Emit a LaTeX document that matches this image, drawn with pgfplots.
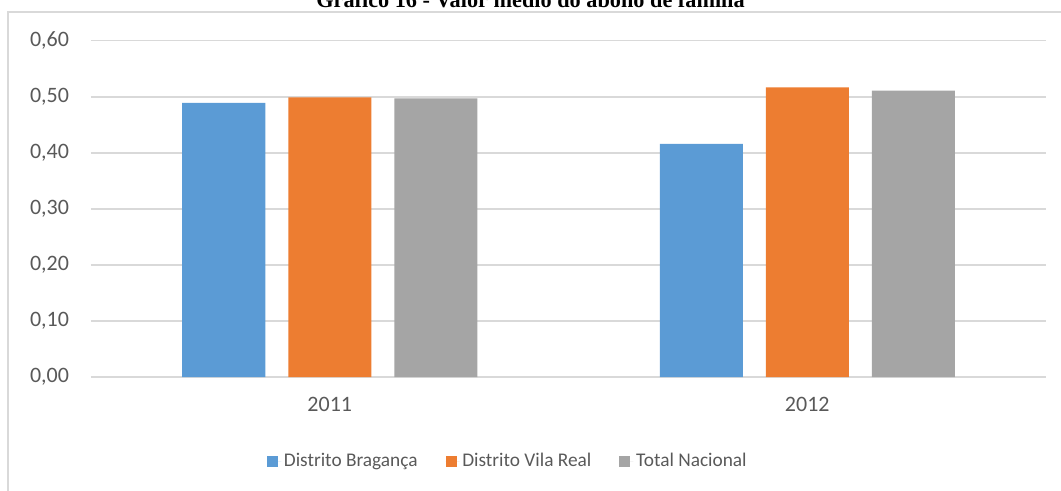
\documentclass[border=0pt]{standalone}
\usepackage{pgfplots}
\pgfplotsset{compat=1.18}
\usepackage{fontspec}
\setmainfont{Carlito}
\newfontfamily\titlefont{Liberation Serif}
\definecolor{cblue}{HTML}{5B9BD5}
\definecolor{corange}{HTML}{ED7D31}
\definecolor{cgray}{HTML}{A5A5A5}
\definecolor{ctext}{HTML}{595959}
\definecolor{cgrid}{HTML}{D9D9D9}
\begin{document}
\begin{tikzpicture}
\useasboundingbox (0,0) rectangle (795.75pt,-367.5pt);
\draw[cgrid, line width=0.9pt] (6pt,-400pt) -- (6pt,-9pt) -- (800pt,-9pt);
\node[anchor=base, inner sep=0pt, font=\titlefont\bfseries\fontsize{16.7}{19}\selectfont] at (397.9pt,-5.6pt) {Gráfico 16 - Valor médio do abono de família};
\begin{axis}[
  at={(68.25pt,-282.75pt)}, anchor=south west,
  scale only axis, width=716.25pt, height=252.2pt,
  ymin=0, ymax=0.6, ytick={0,0.1,...,0.6},
  xmin=-0.5, xmax=1.5, xtick={0,1}, xticklabels={2011,2012},
  axis line style={draw=none},
  major tick length=0pt,
  ymajorgrids, grid style={cgrid, line width=1.1pt},
  tick label style={font=\fontsize{16.5}{18}\selectfont, text=ctext},
  yticklabel style={xshift=-13pt},
  xticklabel style={yshift=-12pt},
  /pgf/number format/.cd, fixed, fixed zerofill, precision=2, use comma, assume math mode=true,
  /pgfplots/.cd,
  ybar, bar width=62.25pt,
  legend columns=3,
  legend style={at={(0.437,-0.25)}, anchor=center, draw=none, fill=none,
    font=\fontsize{14.5}{16}\selectfont, text=ctext,
    /tikz/every even column/.append style={column sep=19pt}},
  legend image code/.code={\fill[#1] (0pt,-4.1pt) rectangle (8.25pt,4.1pt); \path (0pt,0pt) -- (10.5pt,0pt);},
]
\addplot[fill=cblue, draw=none, bar shift=-79.5pt] coordinates {(0,0.489) (1,0.416)};
\addplot[fill=corange, draw=none, bar shift=0pt] coordinates {(0,0.499) (1,0.517)};
\addplot[fill=cgray, draw=none, bar shift=79.5pt] coordinates {(0,0.497) (1,0.511)};
\legend{Distrito Bragança, Distrito Vila Real, Total Nacional}
\end{axis}
\end{tikzpicture}
\end{document}
